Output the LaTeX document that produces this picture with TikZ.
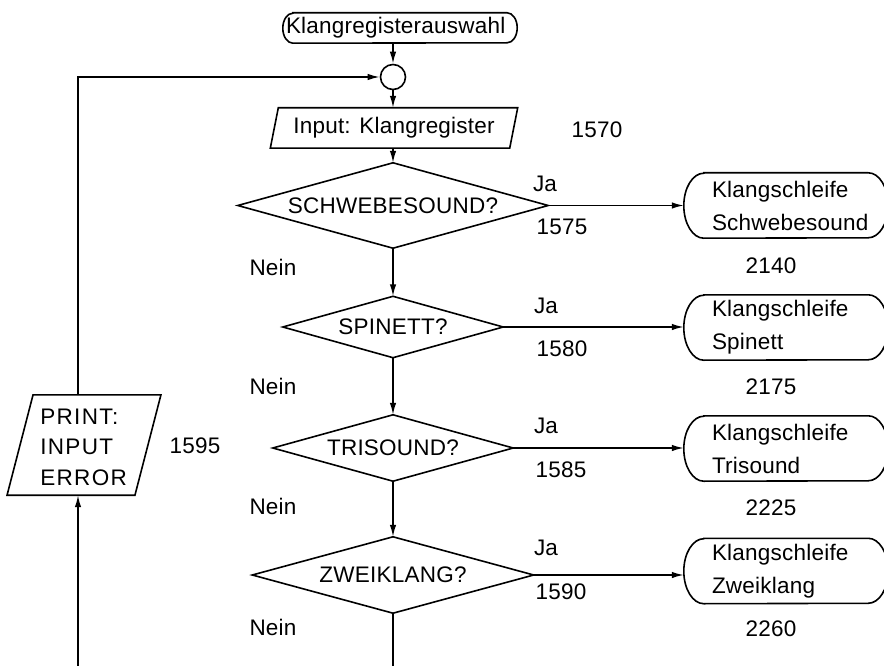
\documentclass[tikz,border=0pt]{standalone}
\usepackage{fontspec}
\setmainfont[LetterSpace=1]{Liberation Sans}
\usetikzlibrary{arrows.meta}

% outline of a terminal box with elliptic ends: node, end x radius, end y radius
\newcommand\capsuleoutline[3]{%
  \draw[line] ([xshift=#2]#1.north west) -- ([xshift=-#2]#1.north east)
    arc[start angle=90, end angle=-90, x radius=#2, y radius=#3]
    -- ([xshift=#2]#1.south west)
    arc[start angle=270, end angle=90, x radius=#2, y radius=#3] -- cycle;}
% outline of an input/output parallelogram: node, half of the slant, vertical offset
\newcommand\slantoutline[3]{%
  \draw[line] ([xshift=-#2,yshift=#3]#1.south west) -- ([xshift=#2,yshift=#3]#1.north west)
    -- ([xshift=#2,yshift=#3]#1.north east) -- ([xshift=-#2,yshift=#3]#1.south east) -- cycle;}
% outline of a decision rhombus through the node's side midpoints
\newcommand\rhombusoutline[1]{%
  \draw[line] (#1.north) -- (#1.east) -- (#1.south) -- (#1.west) -- cycle;}

\tikzset{
  every node/.style={font=\fontsize{22.5}{33}\selectfont, text=black},
  line/.style={line width=1.6pt, draw=black, line join=miter},
  flow/.style={line, -{Latex[length=12pt,width=6.5pt]}},
  plain/.style={rectangle, inner sep=0pt},
  junction/.style={circle, draw=black, line width=1.6pt, minimum size=25pt, inner sep=0pt},
  loopbox/.style={rectangle, minimum width=204pt, minimum height=65pt,
    text width=148pt, inner xsep=28pt, inner ysep=0pt, align=left},
  lbl/.style={inner sep=0pt}
}

\begin{document}
\begin{tikzpicture}[x=1pt,y=-1pt]
\useasboundingbox (0,0) rectangle (884,666);
\clip (0,0) rectangle (884,666);

% main column
\node[plain, minimum width=234pt, minimum height=30pt, text width=228pt,
  inner xsep=3pt, align=left] (start) at (400,28) {Klangregisterauswahl};
\capsuleoutline{start}{10pt}{15pt}
\node[junction] (join) at (393,77) {};
\node[plain, minimum width=239pt, minimum height=40pt] (input) at (394,128) {Input: Klangregister};
\slantoutline{input}{4pt}{0pt}
\node[lbl] (l1570) at (597,130) {1570};

\node[plain, minimum width=310pt, minimum height=85pt] (d1) at (393,205.5) {SCHWEBESOUND?};
\node[plain, minimum width=220pt, minimum height=61pt] (d2) at (393,327) {SPINETT?};
\node[plain, minimum width=240pt, minimum height=66pt] (d3) at (393,448) {TRISOUND?};
\node[plain, minimum width=281pt, minimum height=76pt] (d4) at (393,575) {ZWEIKLANG?};
\foreach \d in {d1,d2,d3,d4} {\rhombusoutline{\d}}

% sound loops
\node[loopbox] (t1) at (786,205.5) {Klangschleife\\Schwebesound};
\node[loopbox] (t2) at (786,327.5) {Klangschleife\\Spinett};
\node[loopbox] (t3) at (786,448.5) {Klangschleife\\Trisound};
\node[loopbox] (t4) at (786,571) {Klangschleife\\Zweiklang};
\foreach \t in {t1,t2,t3,t4} {\capsuleoutline{\t}{20pt}{32.5pt}}

\node[lbl] (n2140) at (771,266) {2140};
\node[lbl] (n2175) at (771,387) {2175};
\node[lbl] (n2225) at (771,508) {2225};
\node[lbl] (n2260) at (771,629) {2260};

% branch labels
\node[lbl] (ja1) at (545,184) {Ja};
\node[lbl] (ja2) at (546,306) {Ja};
\node[lbl] (ja3) at (546,426) {Ja};
\node[lbl] (ja4) at (546,548) {Ja};
\node[lbl] (n1575) at (562,227) {1575};
\node[lbl] (n1580) at (562,349) {1580};
\node[lbl] (n1585) at (561,470) {1585};
\node[lbl] (n1590) at (561,592) {1590};
\node[lbl] (nein1) at (273,267) {Nein};
\node[lbl] (nein2) at (273,386) {Nein};
\node[lbl] (nein3) at (273,506) {Nein};
\node[lbl] (nein4) at (273,627) {Nein};

% error output
\node[plain, minimum width=127.5pt, minimum height=100pt, text width=87.5pt,
  inner xsep=20pt, align=left, font={\fontsize{22.5}{30.5}\addfontfeature{LetterSpace=6}}]
  (err) at (84,447) {PRINT:\\INPUT\\ERROR};
\slantoutline{err}{13pt}{2pt}
\node[lbl] (l1595) at (195,446) {1595};

% connectors
\coordinate (down) at (393,700);
\coordinate (back) at (78,700);
\draw[flow] (start.south -| join) -- (join.north);
\draw[flow] (join.south) -- (join.south |- input.north);
\draw[flow] (input.south -| d1.north) -- (d1.north);
\draw[flow] (d1.south) -- (d2.north);
\draw[flow] (d2.south) -- (d3.north);
\draw[flow] (d3.south) -- (d4.north);
\draw[line] (d4.south) -- (down);
\draw[flow] (d1.east) -- (d1.east -| t1.west);
\draw[flow] (d2.east) -- (d2.east -| t2.west);
\draw[flow] (d3.east) -- (d3.east -| t3.west);
\draw[flow] (d4.east) -- (d4.east -| t4.west);
\draw[flow] (back) -- ([yshift=2pt]back |- err.south);
\draw[flow] ([yshift=2pt]back |- err.north) -- (back |- join) -- (join.west);
\end{tikzpicture}
\end{document}
